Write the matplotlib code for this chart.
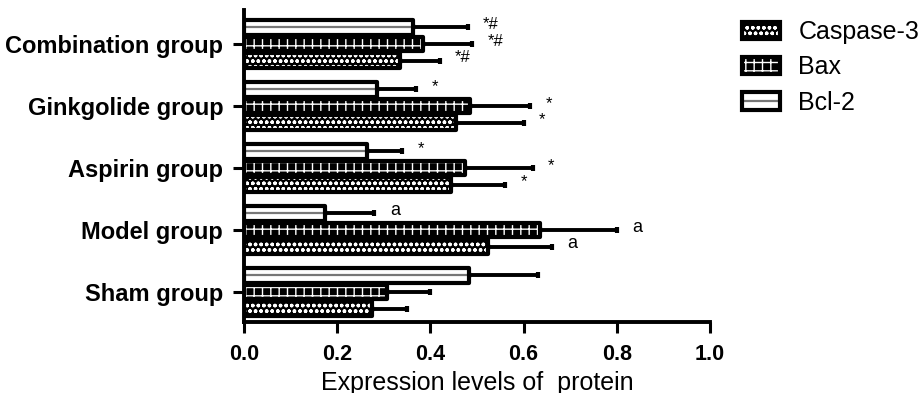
import matplotlib
matplotlib.use("Agg")
import matplotlib.pyplot as plt
import numpy as np
from matplotlib.patches import Patch
from matplotlib.lines import Line2D
from matplotlib.legend_handler import HandlerTuple

plt.rcParams['font.family'] = ['Liberation Sans', 'DejaVu Sans']
plt.rcParams['hatch.linewidth'] = 1.0

categories = ["Sham group", "Model group", "Aspirin group", "Ginkgolide group", "Combination group"]
series = ["Caspase-3", "Bax", "Bcl-2"]

caspase_mean = [0.274, 0.524, 0.444, 0.456, 0.335]
caspase_err = [0.076, 0.136, 0.116, 0.144, 0.085]
bax_mean = [0.306, 0.635, 0.474, 0.485, 0.384]
bax_err = [0.094, 0.165, 0.146, 0.129, 0.106]
bcl2_mean = [0.483, 0.174, 0.263, 0.285, 0.363]
bcl2_err = [0.147, 0.106, 0.077, 0.085, 0.117]

caspase_sig = ["", "a", "*", "*", "*#"]
bax_sig = ["", "a", "*", "*", "*#"]
bcl2_sig = ["", "a", "*", "*", "*#"]

xticks = [0.0, 0.2, 0.4, 0.6, 0.8, 1.0]
xlabel = "Expression levels of  protein"

fig = plt.figure(figsize=(9.19, 3.93), dpi=100)
ax = fig.add_axes([244/919, 1-322/393, (710-244)/919, (322-10)/393])

y = np.arange(len(categories))
off = 0.27
h = 0.24

styles = [
    (caspase_mean, caspase_err, caspase_sig, -off, 'black', 'white', 'ooo', False),
    (bax_mean, bax_err, bax_sig, 0.0, 'black', 'white', '++', False),
    (bcl2_mean, bcl2_err, bcl2_sig, off, 'white', 'white', None, True),
]

leg_handles = []
for (mean, err, sig, o, face, hcol, hatch, midline), name in zip(styles, series):
    yy = y + o
    ax.errorbar(mean, yy, xerr=[np.zeros(len(mean)), err], fmt='none', ecolor='black',
                elinewidth=2.8, capsize=2.5, capthick=3, zorder=1)
    ax.barh(yy, mean, height=h, facecolor=face, edgecolor=hcol, hatch=hatch, linewidth=0, zorder=2)
    if midline:
        ax.hlines(yy, 0, mean, colors='#777777', linewidth=1.6, zorder=2.5)
    ax.barh(yy, mean, height=h, fill=False, edgecolor='black', linewidth=3.0, joinstyle='round', zorder=3)
    for m, e, s, yi in zip(mean, err, sig, yy):
        if s:
            if s == 'a':
                ax.annotate(s, (m + e, yi), xytext=(11, 2), textcoords='offset points',
                            ha='left', va='center', fontsize=13)
            else:
                ax.annotate(s, (m + e, yi), xytext=(11, 2), textcoords='offset points',
                            ha='left', va='center', fontsize=12)
    inner = Patch(facecolor=face, edgecolor=hcol, hatch=hatch, linewidth=0)
    outer = Patch(fill=False, edgecolor='black', linewidth=3.0)
    if midline:
        leg_handles.append((inner, Line2D([], [], color='#777777', lw=1.6), outer))
    else:
        leg_handles.append((inner, outer))

ax.set_xlim(0, 1.0)
ax.set_ylim(-0.484, 4.548)
ax.set_yticks(y)
ax.set_yticklabels(categories, fontsize=17, fontweight='bold')
ax.set_xticks(xticks)
ax.set_xticklabels([f"{t:.1f}" for t in xticks], fontsize=15.5, fontweight='bold')
ax.set_xlabel(xlabel, fontsize=18, labelpad=4)
for s in ['top', 'right']:
    ax.spines[s].set_visible(False)
for s in ['left', 'bottom']:
    ax.spines[s].set_linewidth(2.8)
ax.tick_params(axis='both', length=8, width=2.2, direction='out')
ax.tick_params(axis='y', pad=7)
ax.tick_params(axis='x', pad=8)

leg = fig.legend(leg_handles, series, loc='upper left', bbox_to_anchor=(742/919, 1-20/393),
                 frameon=False, fontsize=18, handlelength=1.5, handleheight=0.7,
                 labelspacing=0.45, handletextpad=0.75, borderaxespad=0, borderpad=0,
                 handler_map={tuple: HandlerTuple(ndivide=1, pad=0)})

fig.savefig("out.png", dpi=100)
